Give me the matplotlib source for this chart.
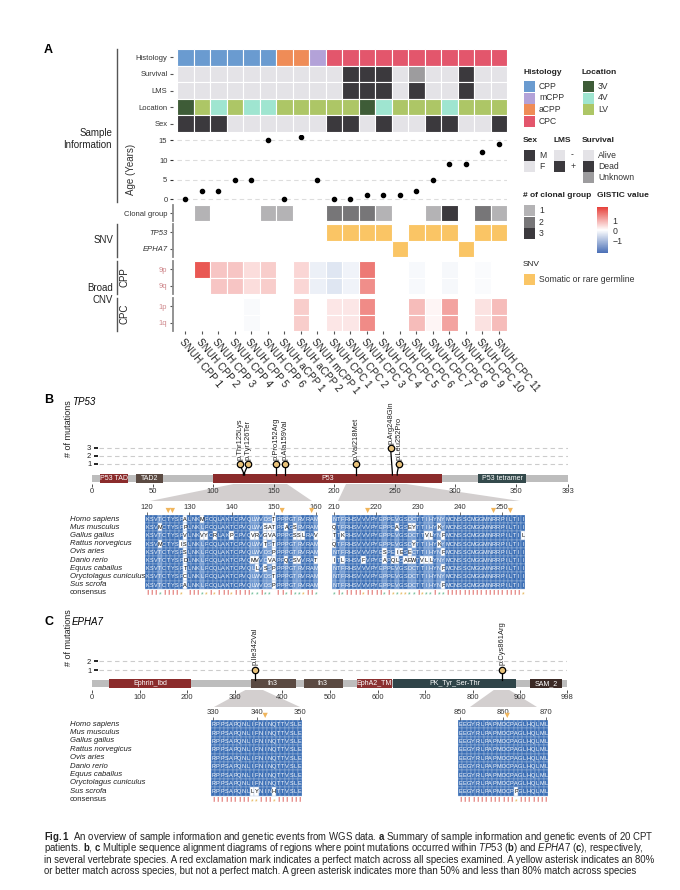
import numpy as np
import matplotlib
matplotlib.use('Agg')
import matplotlib.pyplot as plt
from matplotlib.patches import Rectangle, Polygon
from matplotlib.colors import LinearSegmentedColormap, Normalize
from matplotlib.cm import ScalarMappable
from matplotlib.transforms import blended_transform_factory

plt.rcParams['font.family'] = ['Liberation Sans', 'DejaVu Sans']
plt.rcParams['mathtext.fontset'] = 'custom'
plt.rcParams['mathtext.rm'] = 'Liberation Sans'
plt.rcParams['mathtext.it'] = 'Liberation Sans:italic'
plt.rcParams['mathtext.bf'] = 'Liberation Sans:bold'

# ---------------- panel A data ----------------
samples = ['SNUH CPP 1', 'SNUH CPP 2', 'SNUH CPP 3', 'SNUH CPP 4', 'SNUH CPP 5',
           'SNUH CPP 6', 'SNUH aCPP 1', 'SNUH aCPP 2', 'SNUH mCPP 1', 'SNUH CPC 1',
           'SNUH CPC 2', 'SNUH CPC 3', 'SNUH CPC 4', 'SNUH CPC 5', 'SNUH CPC 6',
           'SNUH CPC 7', 'SNUH CPC 8', 'SNUH CPC 9', 'SNUH CPC 10', 'SNUH CPC 11']
histology = ['CPP', 'CPP', 'CPP', 'CPP', 'CPP', 'CPP', 'aCPP', 'aCPP', 'mCPP', 'CPC',
             'CPC', 'CPC', 'CPC', 'CPC', 'CPC', 'CPC', 'CPC', 'CPC', 'CPC', 'CPC']
survival = ['Alive', 'Alive', 'Alive', 'Alive', 'Alive', 'Alive', 'Alive', 'Alive', 'Alive', 'Alive',
            'Dead', 'Dead', 'Dead', 'Alive', 'Unknown', 'Alive', 'Alive', 'Dead', 'Alive', 'Alive']
lms = ['-', '-', '-', '-', '-', '-', '-', '-', '-', '-',
       '+', '+', '+', '-', '+', '-', '-', '+', '-', '-']
location = ['3V', 'LV', '4V', 'LV', '4V', '4V', 'LV', 'LV', 'LV', 'LV',
            'LV', '3V', '4V', 'LV', 'LV', 'LV', '4V', 'LV', 'LV', 'LV']
sex = ['M', 'M', 'M', 'F', 'F', 'F', 'F', 'F', 'F', 'M',
       'M', 'F', 'M', 'F', 'F', 'M', 'M', 'F', 'F', 'M']
age = [0, 2, 2, 5, 5, 15, 0, 16, 5, 0, 0, 1, 1, 1, 2, 5, 9, 9, 12, 14]
clonal = [0, 1, 0, 0, 0, 1, 1, 0, 0, 2, 2, 2, 1, 0, 0, 1, 3, 0, 2, 1]
snv_tp53 = [0, 0, 0, 0, 0, 0, 0, 0, 0, 1, 1, 1, 1, 0, 1, 1, 1, 0, 1, 1]
snv_epha7 = [0, 0, 0, 0, 0, 0, 0, 0, 0, 0, 0, 0, 0, 1, 0, 0, 0, 1, 0, 0]
nan = np.nan
cnv_9p = [nan, 2.0, 0.7, 0.7, 0.4, 0.6, nan, 0.5, -0.25, -0.4, -0.18, 1.6,
          nan, nan, -0.1, nan, -0.12, nan, -0.06, nan]
cnv_9q = [nan, nan, 0.7, 0.7, 0.4, 0.6, nan, 0.5, -0.25, -0.4, -0.18, 1.35,
          nan, nan, -0.1, nan, -0.12, nan, -0.06, nan]
cnv_1p = [nan, nan, nan, nan, -0.08, nan, nan, 0.6, nan, 0.3, 0.3, 1.4,
          nan, nan, 0.8, 0.12, 1.1, nan, 0.35, 0.8]
cnv_1q = [nan, nan, nan, nan, -0.08, nan, nan, 0.6, nan, 0.3, 0.3, 1.4,
          nan, nan, 0.8, 0.12, 1.1, nan, 0.35, 0.8]

# ---------------- panel B / C data ----------------
tp53_len = 393
tp53_dom_names = ['P53 TAD', 'TAD2', 'P53', 'P53 tetramer']
tp53_dom_start = [7, 36, 100, 319]
tp53_dom_end = [30, 59, 289, 358]
tp53_mut_pos = [125, 126, 152, 159, 218, 248, 252]
tp53_mut_count = [1, 1, 1, 1, 1, 3, 1]
tp53_mut_label = ['p.Thr125Lys', 'p.Tyr126Ter', 'p.Pro152Arg', 'p.Ala159Val',
                  'p.Val218Met', 'p.Arg248Gln', 'p.Leu252Pro']
tp53_xticks = [0, 50, 100, 150, 200, 250, 300, 350, 393]

epha7_len = 998
epha7_dom_names = ['Ephrin_lbd', 'fn3', 'fn3', 'EphA2_TM', 'PK_Tyr_Ser-Thr', 'SAM_2']
epha7_dom_start = [36, 334, 445, 557, 633, 920]
epha7_dom_end = [208, 428, 527, 630, 891, 987]
epha7_mut_pos = [342, 861]
epha7_mut_count = [1, 1]
epha7_mut_label = ['p.Ile342Val', 'p.Cys861Arg']
epha7_xticks = [0, 100, 200, 300, 400, 500, 600, 700, 800, 900, 998]

species = ['Homo sapiens', 'Mus musculus', 'Gallus gallus', 'Rattus norvegicus', 'Ovis aries',
           'Danio rerio', 'Equus caballus', 'Oryctolagus cuniculus', 'Sus scrofa']
tp53_aln1 = ['KSVTCTYSPALNKMFCQLAKTCPVQLWVDSTPPPGTRVRAM',
             'KSVMCTYSPPLNKLFCQLAKTCPVQLWVSATPPAGSRVRAM',
             'KSVTCTYSPVLNKVYCRLAKPCPVQVRVGVAPPPGSSLRAV',
             'KSVMCTYSISLNKLFCQLAKTCPVQLWVTSTPPPGTRVRAM',
             'KSVTCTYSPSLNKLFCQLAKTCPVQLWVDSPPPPGTRVRAM',
             'KSVTCTYSPDLNKLFCQLAKTCPVQMVVDVAPPQGSVVRAT',
             'KSVTCTYSPTLNKLFCQLAKTCPVQLLVSSPPPPGTRVRAM',
             'KSVTCTYSPCLNKLFCQLAKTCPVQLWVDSTPPPGTRVRAM',
             'KSVTCTYSPALNKLFCQLAKTCPVQLWVDSPPPPGTRVRAM']
tp53_aln2 = ['NTFRHSVVVPYEPPEVGSDCTTIHYNYMCNSSCMGGMNRRPILTII',
             'QTFRHSVVVPYEPPEAGSEYTTIHYKYMCNSSCMGGMNRRPILTII',
             'TTKRHSVVVPYEPPEVGSDCTTVLYNFMCNSSCMGGMNRRPILTIL',
             'QTFRHSVVVPYEPPEVGSDYTTIHYKYMCNSSCMGGMNRRPILTII',
             'NTFRHSVVVPYESPEIESECTTIHYNFMCNSSCMGGMNRRPILTII',
             'ITLRHSVFVPYEAPQLGAEWTVLLYNYMCNSSCMGGMNRRPILTII',
             'NTFRHSVVVPYEPPEVGSDCTTIHYNFMCNSSCMGGMNRRPILTII',
             'NTFRHSVVVPYEPPEVGSDCTTIHYNYMCNSSCMGGMNRRPILTII',
             'NTFRHSVVVPYEPPEVGSDCTTIHYNFMCNSSCMGGMNRRPILTII']
epha7_aln1 = ['RPPSAPQNLIFNINQTTVSLE'] * 8 + ['RPPSAPQNLLYNINHTTVSLE']
epha7_aln2 = ['EEGYRLPAPMDCPAGLHQLML'] * 8 + ['EEGYRLPAPMDCPPGLHQLML']

# ---------------- styles ----------------
W, H = 680, 890
dark = '#3b393d'
light = '#e4e3e7'
hist_col = {'CPP': '#6a9bd0', 'mCPP': '#b3a2d8', 'aCPP': '#ef8c57', 'CPC': '#e3566c'}
loc_col = {'3V': '#3e5c37', '4V': '#9fe5d0', 'LV': '#adc666'}
surv_col = {'Alive': light, 'Dead': dark, 'Unknown': '#9d9c9e'}
lms_col = {'-': light, '+': dark}
sex_col = {'M': dark, 'F': light}
clonal_col = {1: '#b4b3b5', 2: '#777678', 3: dark}
snv_col = '#fac565'
gistic = LinearSegmentedColormap.from_list('gistic', ['#4a6fb6', '#ffffff', '#e6403a'])
gnorm = Normalize(-2.3, 2.3)
narrow = ['Liberation Sans Narrow', 'Liberation Sans']

fig = plt.figure(figsize=(W / 100, H / 100), dpi=100)


def add_ax(x0, y0, x1, y1):
    return fig.add_axes([x0 / W, 1 - y1 / H, (x1 - x0) / W, (y1 - y0) / H])


def fpt(x, y):
    return (x / W, 1 - y / H)


def cells(ax, rows, labels, spine=True):
    for i, row in enumerate(rows):
        for j, c in enumerate(row):
            if c is not None:
                ax.add_patch(Rectangle((j, i), 1, 1, facecolor=c, edgecolor='white', lw=0.8))
    ax.set_xlim(-0.25, len(rows[0]))
    ax.set_ylim(len(rows), 0)
    ax.set_yticks(np.arange(len(rows)) + 0.5)
    ax.set_yticklabels(labels, fontsize=5.5, color='#333333')
    ax.tick_params(axis='y', length=2, width=0.8, pad=2, color='#555555')
    ax.set_xticks([])
    for s in ['top', 'right', 'bottom']:
        ax.spines[s].set_visible(False)
    ax.spines['left'].set_visible(spine)
    ax.spines['left'].set_color('#8a8a8a')
    ax.spines['left'].set_linewidth(1.3)


def bracket(x, y0, y1):
    fig.add_artist(plt.Line2D([x / W, x / W], [1 - y0 / H, 1 - y1 / H], color='#555555', lw=1.0))


# ---------------- panel A ----------------
fig.text(*fpt(44, 50), 'A', fontsize=9, fontweight='bold', va='center')

ax_info = add_ax(173, 49, 507, 132)
cells(ax_info, [[hist_col[v] for v in histology], [surv_col[v] for v in survival],
                [lms_col[v] for v in lms], [loc_col[v] for v in location],
                [sex_col[v] for v in sex]],
      ['Histology', 'Survival', 'LMS', 'Location', 'Sex'], spine=False)

ax_age = add_ax(173, 135, 507, 203)
for v in [0, 5, 10, 15]:
    ax_age.axhline(v, xmin=0.25 / 20.25, color='#dddddd', ls=(0, (4, 3)), lw=0.8, zorder=1)
ax_age.scatter(np.arange(len(age)) + 0.5, age, s=9, color='black', zorder=3)
ax_age.set_xlim(-0.25, 20)
ax_age.set_ylim(-1.0, 16.4)
ax_age.set_yticks([0, 5, 10, 15])
ax_age.tick_params(axis='y', labelsize=5.5, length=2, pad=2, colors='#333333')
ax_age.set_xticks([])
for s in ax_age.spines.values():
    s.set_visible(False)
ax_age.set_ylabel('Age (Years)', fontsize=7, color='#333333')
ax_age.yaxis.set_label_coords(-(173 - 136) / 334, 0.5)

ax_cl = add_ax(173, 205, 507, 221)
cells(ax_cl, [[clonal_col.get(v) for v in clonal]], ['Clonal group'])

ax_snv = add_ax(173, 224, 507, 257)
cells(ax_snv, [[snv_col if v else None for v in snv_tp53],
               [snv_col if v else None for v in snv_epha7]], ['TP53', 'EPHA7'])
for t in ax_snv.get_yticklabels():
    t.set_style('italic')


def cnv_rows(vals):
    return [None if np.isnan(v) else gistic(gnorm(v)) for v in vals]


ax_cpp = add_ax(173, 261, 507, 294)
cells(ax_cpp, [cnv_rows(cnv_9p), cnv_rows(cnv_9q)], ['9p', '9q'])
ax_cpc = add_ax(173, 298, 507, 331)
cells(ax_cpc, [cnv_rows(cnv_1p), cnv_rows(cnv_1q)], ['1p', '1q'])
for a in (ax_cpp, ax_cpc):
    for t in a.get_yticklabels():
        t.set_color('#d08a8e')
ax_cpc.set_xticks(np.arange(len(samples)) + 0.5)
ax_cpc.set_xticklabels(samples, rotation=-50, ha='left', va='top', rotation_mode='anchor',
                       fontsize=7.2, color='#222222')
ax_cpc.tick_params(axis='x', length=2, width=0.8, pad=2, color='#555555')

fig.text(*fpt(112, 139), 'Sample\nInformation', fontsize=7, ha='right', va='center',
         multialignment='right', color='#222222')
bracket(117, 49, 202)
fig.text(*fpt(113, 240), 'SNV', fontsize=7, ha='right', va='center', color='#222222')
bracket(117, 224, 257)
fig.text(*fpt(113, 294), 'Broad\nCNV', fontsize=7, ha='right', va='center',
         multialignment='right', color='#222222')
bracket(117, 261, 294)
bracket(117, 298, 331)
fig.text(*fpt(125, 277), 'CPP', fontsize=7, rotation=90, ha='center', va='center', color='#222222')
fig.text(*fpt(125, 314), 'CPC', fontsize=7, rotation=90, ha='center', va='center', color='#222222')

# legend
ax_leg = add_ax(515, 60, 680, 300)
ax_leg.set_xlim(515, 680)
ax_leg.set_ylim(300, 60)
ax_leg.axis('off')


def leg_title(x, y, s, bold=True):
    ax_leg.text(x, y, s, fontsize=6.0, fontweight='bold' if bold else 'normal',
                va='center', ha='left', color='#222222')


def leg_items(x, y, colors, names, tx=15):
    for k, (c, n) in enumerate(zip(colors, names)):
        yy = y + k * 11.5
        ax_leg.add_patch(Rectangle((x, yy - 5.5), 11, 11, facecolor=c, edgecolor='none'))
        ax_leg.text(x + tx, yy, n, fontsize=6.2, va='center', ha='left', color='#333333')


leg_title(523, 72, 'Histology')
leg_items(524, 86.5, [hist_col[k] for k in ['CPP', 'mCPP', 'aCPP', 'CPC']], ['CPP', 'mCPP', 'aCPP', 'CPC'])
leg_title(582, 73, 'Location')
leg_items(583, 86.5, [loc_col[k] for k in ['3V', '4V', 'LV']], ['3V', '4V', 'LV'])
leg_title(523, 140, 'Sex')
leg_items(524, 155, [dark, light], ['M', 'F'])
leg_title(553, 140, 'LMS')
leg_items(554, 155, [light, dark], ['-', '+'], tx=17)
leg_title(582, 140, 'Survival')
leg_items(583, 155, [light, dark, '#9d9c9e'], ['Alive', 'Dead', 'Unknown'])
leg_title(523, 196, '# of clonal group')
leg_items(524, 211, [clonal_col[1], clonal_col[2], clonal_col[3]], ['1', '2', '3'])
leg_title(597, 196, 'GISTIC value')
leg_title(523, 265, 'SNV', bold=False)
leg_items(524, 280, [snv_col], ['Somatic or rare germline'])

cax = add_ax(597, 207, 608, 253)
cb = fig.colorbar(ScalarMappable(norm=gnorm, cmap=gistic), cax=cax, ticks=[-1, 0, 1])
cb.outline.set_visible(False)
cax.tick_params(length=0, labelsize=6.3, pad=3, colors='#333333')


# ---------------- lollipop helper ----------------
def lollipop(ax, length, dom_names, dom_start, dom_end, dom_colors, mut_pos, mut_count,
             mut_label, xticks, bar, dom, min_gap, yticks):
    ax.add_patch(Rectangle((0, bar[0]), length, bar[1] - bar[0], facecolor='#bdbdbd',
                           edgecolor='none', zorder=1))
    for n, s, e, c in zip(dom_names, dom_start, dom_end, dom_colors):
        ax.add_patch(Rectangle((s, dom[0]), e - s, dom[1] - dom[0], facecolor=c,
                               edgecolor='none', zorder=2))
        ax.text((s + e) / 2, (dom[0] + dom[1]) / 2, n, color='white', fontsize=5,
                ha='center', va='center', zorder=3)
    ax.hlines(yticks, length * 0.015, length, colors='#cccccc', linestyles=(0, (4, 3)),
              lw=0.8, zorder=0)
    # spread heads / labels that would overlap
    heads = list(mut_pos)
    for i in range(1, len(mut_pos)):
        if mut_pos[i] - mut_pos[i - 1] < min_gap:
            mid = (mut_pos[i] + mut_pos[i - 1]) / 2
            heads[i - 1] = mid - min_gap / 2
            heads[i] = mid + min_gap / 2
    for p, hx, c, lab in zip(mut_pos, heads, mut_count, mut_label):
        ax.plot([p, p, hx], [bar[1], bar[1] + 0.3, c], color='black', lw=0.9, zorder=4)
        ax.plot(hx, c, 'o', ms=4.6, mfc='#e8c27a', mec='black', mew=0.9, zorder=5)
        ax.text(hx, c + 0.55, lab, rotation=90, fontsize=5.4, ha='center', va='bottom',
                color='#222222', family=narrow)
    ax.set_xlim(0, length)
    ax.set_xticks(xticks)
    ax.set_yticks(yticks)
    ax.tick_params(axis='x', length=2, width=0.6, pad=1, labelsize=5.5, colors='#333333')
    ax.tick_params(axis='y', length=3, width=1.4, pad=2, labelsize=5.5, colors='#222222')
    for s in ['top', 'right']:
        ax.spines[s].set_visible(False)
    ax.spines['left'].set_position(('data', length * 0.013))
    ax.spines['left'].set_visible(False)
    ax.spines['bottom'].set_visible(False)
    ax.set_ylabel('# of mutations', fontsize=6.5, color='#222222')


def alignment(ax, start, seqs, marks, labels_x):
    nr = len(seqs)
    n = len(seqs[0])
    for j in range(n):
        col = [s[j] for s in seqs]
        vals, cnts = np.unique(col, return_counts=True)
        top = vals[np.argmax(cnts)]
        frac = cnts.max() / nr
        for i, s in enumerate(seqs):
            if s[j] == top and frac > 0.5:
                fc = '#3d70b6' if frac >= 0.8 else '#6f98d0'
                tc = 'white'
            else:
                fc = 'white'
                tc = 'black'
            ax.add_patch(Rectangle((start + j - 0.5, i), 1, 1, facecolor=fc,
                                   edgecolor='#a9c0e0', lw=0.3))
            ax.text(start + j, i + 0.55, s[j], fontsize=4.0, color=tc, ha='center', va='center')
        if frac == 1:
            ax.text(start + j, nr + 0.55, '!', fontsize=5, color='#d9534f', ha='center',
                    va='center', fontweight='bold')
        elif frac >= 0.8:
            ax.text(start + j, nr + 0.7, '*', fontsize=5, color='#e3b04b', ha='center', va='center')
        elif frac > 0.5:
            ax.text(start + j, nr + 0.7, '*', fontsize=5, color='#5bb58a', ha='center', va='center')
    ax.set_xlim(start - 0.5, start + n - 0.5)
    ax.set_ylim(nr + 1, 0)
    ax.scatter(marks, [-0.55] * len(marks), marker='v', s=14, color='#f0b55c',
               edgecolor='none', clip_on=False, zorder=5)
    ax.xaxis.tick_top()
    ax.set_xticks([t for t in range(start, start + n) if t % 10 == 0])
    ax.tick_params(axis='x', length=2, width=0.5, pad=1, labelsize=5.5, colors='#333333')
    ax.set_yticks([])
    for s in ax.spines.values():
        s.set_visible(False)
    if labels_x is not None:
        tr = blended_transform_factory(fig.transFigure, ax.transData)
        for i, sp in enumerate(species):
            ax.text(labels_x / W, i + 0.5, sp, transform=tr, fontsize=5.6, style='italic',
                    va='center', ha='left', color='#222222', family=narrow)
        ax.text(labels_x / W, nr + 0.5, 'consensus', transform=tr, fontsize=5.6,
                va='center', ha='left', color='#222222', family=narrow)


def zoom_shape(ax_l, p0, p1, ybar, x0, x1, ybot):
    inv = fig.transFigure.inverted()
    a = inv.transform(ax_l.transData.transform((p0, ybar)))
    b = inv.transform(ax_l.transData.transform((p1, ybar)))
    fig.add_artist(Polygon([a, b, fpt(x1, ybot), fpt(x0, ybot)], closed=True,
                           facecolor='#d3cfcf', edgecolor='none', zorder=-1))


# ---------------- panel B ----------------
fig.text(*fpt(44, 400), 'B', fontsize=9, fontweight='bold', va='center')
fig.text(*fpt(72, 402), 'TP53', fontsize=7, style='italic', va='center')
ax_b = add_ax(92, 395, 568, 484)
ax_b.set_ylim(-1.5, 9.625)
lollipop(ax_b, tp53_len, tp53_dom_names, tp53_dom_start, tp53_dom_end,
         ['#8b2b2b', '#5b4a42', '#8b2b2b', '#344a4c'], tp53_mut_pos, tp53_mut_count,
         tp53_mut_label, tp53_xticks, (-1.25, -0.375), (-1.4, -0.25), 7, [1, 2, 3])
ax_b.yaxis.set_label_coords(-(92 - 73) / 476, 0.62)

ax_b1 = add_ax(145, 515, 318, 597)
alignment(ax_b1, 120, tp53_aln1, [125, 126, 152, 159], 70)
ax_b2 = add_ax(332, 515, 525, 597)
alignment(ax_b2, 210, tp53_aln2, [218, 248, 252], None)
zoom_shape(ax_b, 120, 160, -1.4, 150, 312, 501)
zoom_shape(ax_b, 210, 255, -1.4, 338, 520, 501)

# ---------------- panel C ----------------
fig.text(*fpt(44, 622), 'C', fontsize=9, fontweight='bold', va='center')
fig.text(*fpt(72, 622), 'EPHA7', fontsize=7, style='italic', va='center')
ax_c = add_ax(92, 605, 567, 690)
ax_c.set_ylim(-1.22, 8.22)
lollipop(ax_c, epha7_len, epha7_dom_names, epha7_dom_start, epha7_dom_end,
         ['#8b2b2b', '#5b4a42', '#5b4a42', '#8b3030', '#2f4448', '#3b2a25'],
         epha7_mut_pos, epha7_mut_count, epha7_mut_label, epha7_xticks,
         (-0.89, -0.11), (-1.0, 0.0), 10, [1, 2])
ax_c.yaxis.set_label_coords(-(92 - 73) / 475, 0.62)

ax_c1 = add_ax(211, 720, 302, 804)
alignment(ax_c1, 330, epha7_aln1, [342], 70)
ax_c2 = add_ax(458, 720, 548, 804)
alignment(ax_c2, 850, epha7_aln2, [861], None)
zoom_shape(ax_c, 330, 350, -1.0, 214, 300, 707)
zoom_shape(ax_c, 850, 870, -1.0, 470, 537, 707)

# ---------------- caption ----------------
caption = [
    r'$\bf{Fig. 1}$  An overview of sample information and genetic events from WGS data. $\bf{a}$ Summary of sample information and genetic events of 20 CPT',
    r'patients. $\bf{b}$, $\bf{c}$ Multiple sequence alignment diagrams of regions where point mutations occurred within $\it{TP53}$ ($\bf{b}$) and $\it{EPHA7}$ ($\bf{c}$), respectively,',
    'in several vertebrate species. A red exclamation mark indicates a perfect match across all species examined. A yellow asterisk indicates an 80%',
    'or better match across species, but not a perfect match. A green asterisk indicates more than 50% and less than 80% match across species',
]
for k, line in enumerate(caption):
    fig.text(*fpt(44, 837 + k * 11.3), line, fontsize=6.9, va='center', ha='left', color='#222222')

fig.savefig('out.png', dpi=100)
